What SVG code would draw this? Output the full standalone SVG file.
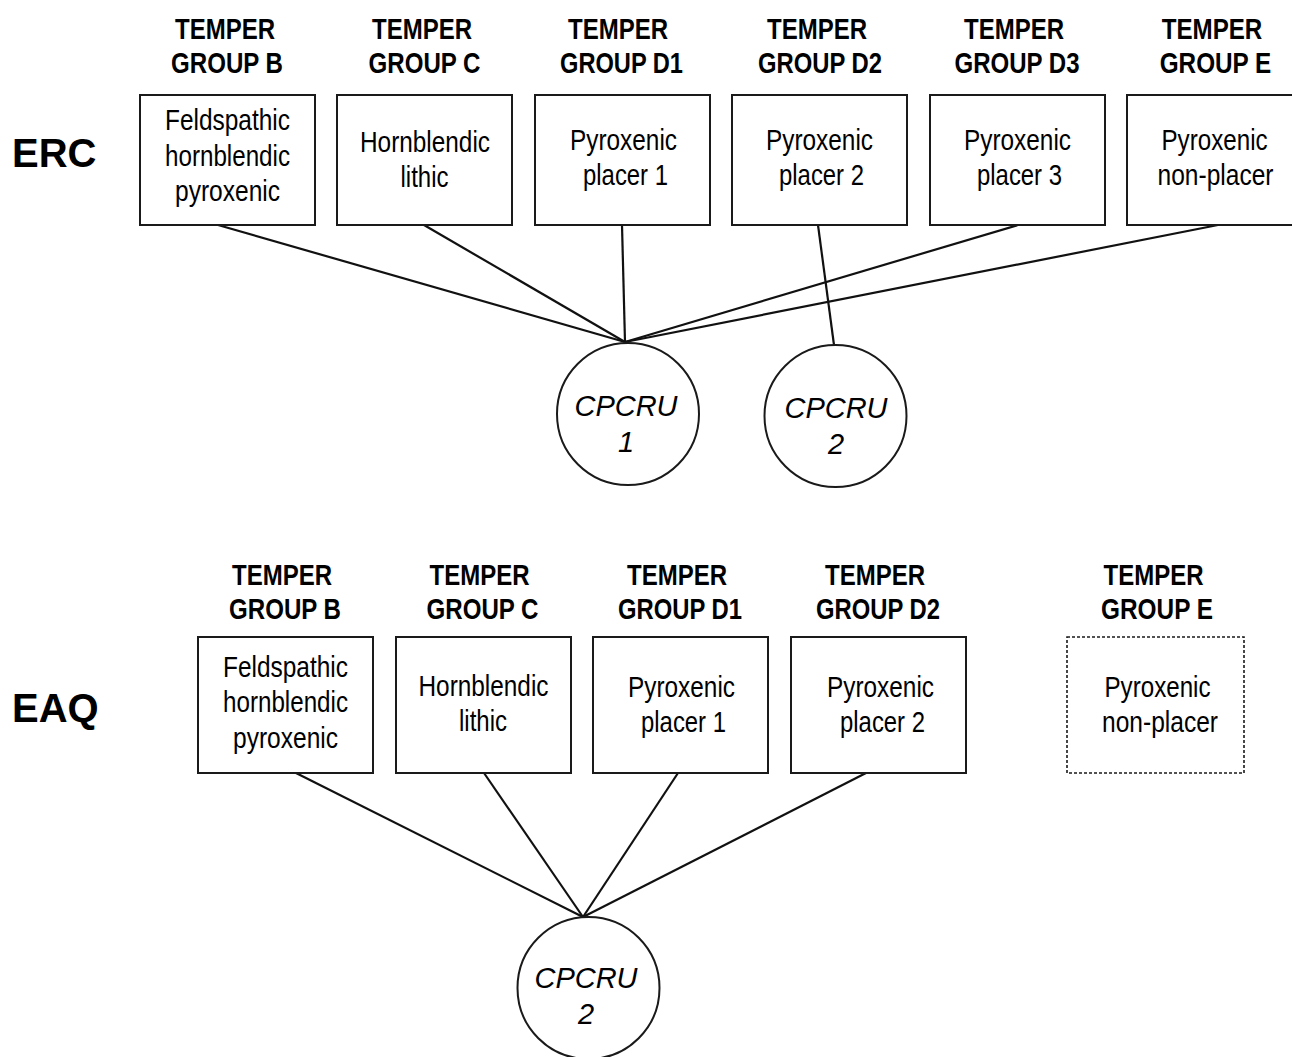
<svg xmlns="http://www.w3.org/2000/svg" width="1292" height="1057" viewBox="0 0 1292 1057">
<style>
.bg{fill:#fff}
.box{fill:#fff;stroke:#1a1a1a;stroke-width:2}
.dbox{fill:#fff;stroke:#1a1a1a;stroke-width:1.6;stroke-dasharray:3 2}
.circ{fill:#fff;stroke:#1a1a1a;stroke-width:2}
.ln{stroke:#111;stroke-width:2.2;fill:none}
.ttl{font-family:"Liberation Sans",Arial,sans-serif;font-weight:bold;font-size:30px;fill:#000;text-anchor:middle}
.lbl{font-family:"Liberation Sans",Arial,sans-serif;font-size:29.5px;fill:#000;text-anchor:middle}
.big{font-family:"Liberation Sans",Arial,sans-serif;font-weight:bold;font-size:40px;fill:#000}
.cu{font-family:"Liberation Sans",Arial,sans-serif;font-style:italic;font-size:29px;fill:#000;text-anchor:middle}
</style>
<rect class="bg" x="0" y="0" width="1292" height="1057"/>
<g id="connectors">
<line class="ln" x1="218" y1="225" x2="625" y2="342"/>
<line class="ln" x1="424" y1="225" x2="625" y2="342"/>
<line class="ln" x1="622" y1="225" x2="625" y2="342"/>
<line class="ln" x1="818" y1="225" x2="834" y2="345"/>
<line class="ln" x1="1018" y1="225" x2="625" y2="342"/>
<line class="ln" x1="1218" y1="225" x2="625" y2="342"/>
<line class="ln" x1="296" y1="773" x2="583" y2="917"/>
<line class="ln" x1="484" y1="773" x2="583" y2="917"/>
<line class="ln" x1="678" y1="773" x2="583" y2="917"/>
<line class="ln" x1="866" y1="773" x2="583" y2="917"/>
</g>
<text id="erc" class="big" x="12" y="167">ERC</text>
<text id="eaq" class="big" x="12" y="722">EAQ</text>
<g id="erc-b">
<text class="ttl" x="225" y="39" textLength="100" lengthAdjust="spacingAndGlyphs">TEMPER</text><text class="ttl" x="227" y="73" textLength="112" lengthAdjust="spacingAndGlyphs">GROUP B</text>
<rect class="box" x="140" y="95" width="175" height="130"/>
<text class="lbl" x="227.5" y="130" textLength="125" lengthAdjust="spacingAndGlyphs">Feldspathic</text><text class="lbl" x="227.5" y="166" textLength="125" lengthAdjust="spacingAndGlyphs">hornblendic</text><text class="lbl" x="227.5" y="201" textLength="105" lengthAdjust="spacingAndGlyphs">pyroxenic</text>
</g>
<g id="erc-c">
<text class="ttl" x="422" y="39" textLength="100" lengthAdjust="spacingAndGlyphs">TEMPER</text><text class="ttl" x="424.5" y="73" textLength="112" lengthAdjust="spacingAndGlyphs">GROUP C</text>
<rect class="box" x="337" y="95" width="175" height="130"/>
<text class="lbl" x="425" y="152" textLength="130" lengthAdjust="spacingAndGlyphs">Hornblendic</text><text class="lbl" x="424.5" y="187" textLength="48" lengthAdjust="spacingAndGlyphs">lithic</text>
</g>
<g id="erc-d1">
<text class="ttl" x="618" y="39" textLength="100" lengthAdjust="spacingAndGlyphs">TEMPER</text><text class="ttl" x="621.5" y="73" textLength="123" lengthAdjust="spacingAndGlyphs">GROUP D1</text>
<rect class="box" x="535" y="95" width="175" height="130"/>
<text class="lbl" x="623.5" y="150" textLength="107" lengthAdjust="spacingAndGlyphs">Pyroxenic</text><text class="lbl" x="625.5" y="185" textLength="85" lengthAdjust="spacingAndGlyphs">placer 1</text>
</g>
<g id="erc-d2">
<text class="ttl" x="817" y="39" textLength="100" lengthAdjust="spacingAndGlyphs">TEMPER</text><text class="ttl" x="820" y="73" textLength="124" lengthAdjust="spacingAndGlyphs">GROUP D2</text>
<rect class="box" x="732" y="95" width="175" height="130"/>
<text class="lbl" x="819.5" y="150" textLength="107" lengthAdjust="spacingAndGlyphs">Pyroxenic</text><text class="lbl" x="821.5" y="185" textLength="85" lengthAdjust="spacingAndGlyphs">placer 2</text>
</g>
<g id="erc-d3">
<text class="ttl" x="1014" y="39" textLength="100" lengthAdjust="spacingAndGlyphs">TEMPER</text><text class="ttl" x="1017" y="73" textLength="125" lengthAdjust="spacingAndGlyphs">GROUP D3</text>
<rect class="box" x="930" y="95" width="175" height="130"/>
<text class="lbl" x="1017.5" y="150" textLength="107" lengthAdjust="spacingAndGlyphs">Pyroxenic</text><text class="lbl" x="1019.5" y="185" textLength="85" lengthAdjust="spacingAndGlyphs">placer 3</text>
</g>
<g id="erc-e">
<text class="ttl" transform="translate(1212 39) scale(0.805 1)" x="0" y="0">TEMPER</text><text class="ttl" transform="translate(1215.5 73) scale(0.81 1)" x="0" y="0">GROUP E</text>
<path class="box" d="M1292 95 H1127 V225 H1292"/>
<text class="lbl" transform="translate(1214.5 150) scale(0.82 1)" x="0" y="0">Pyroxenic</text><text class="lbl" transform="translate(1215.5 185) scale(0.832 1)" x="0" y="0">non-placer</text>
</g>
<g id="erc-cpcru1">
<circle class="circ" cx="628" cy="414" r="71"/>
<text class="cu" x="626" y="416">CPCRU</text><text class="cu" x="626" y="452">1</text>
</g>
<g id="erc-cpcru2">
<circle class="circ" cx="835.5" cy="416" r="71"/>
<text class="cu" x="836" y="418">CPCRU</text><text class="cu" x="836" y="454">2</text>
</g>
<g id="eaq-b">
<text class="ttl" x="282" y="585" textLength="100" lengthAdjust="spacingAndGlyphs">TEMPER</text><text class="ttl" x="285" y="619" textLength="112" lengthAdjust="spacingAndGlyphs">GROUP B</text>
<rect class="box" x="198" y="637" width="175" height="136"/>
<text class="lbl" x="285.5" y="677" textLength="125" lengthAdjust="spacingAndGlyphs">Feldspathic</text><text class="lbl" x="285.5" y="712" textLength="125" lengthAdjust="spacingAndGlyphs">hornblendic</text><text class="lbl" x="285.5" y="748" textLength="105" lengthAdjust="spacingAndGlyphs">pyroxenic</text>
</g>
<g id="eaq-c">
<text class="ttl" x="479.5" y="585" textLength="100" lengthAdjust="spacingAndGlyphs">TEMPER</text><text class="ttl" x="482.5" y="619" textLength="112" lengthAdjust="spacingAndGlyphs">GROUP C</text>
<rect class="box" x="396" y="637" width="175" height="136"/>
<text class="lbl" x="483.5" y="696" textLength="130" lengthAdjust="spacingAndGlyphs">Hornblendic</text><text class="lbl" x="483" y="731" textLength="48" lengthAdjust="spacingAndGlyphs">lithic</text>
</g>
<g id="eaq-d1">
<text class="ttl" x="677" y="585" textLength="100" lengthAdjust="spacingAndGlyphs">TEMPER</text><text class="ttl" x="680" y="619" textLength="124" lengthAdjust="spacingAndGlyphs">GROUP D1</text>
<rect class="box" x="593" y="637" width="175" height="136"/>
<text class="lbl" x="681.5" y="697" textLength="107" lengthAdjust="spacingAndGlyphs">Pyroxenic</text><text class="lbl" x="683.5" y="732" textLength="85" lengthAdjust="spacingAndGlyphs">placer 1</text>
</g>
<g id="eaq-d2">
<text class="ttl" x="875" y="585" textLength="100" lengthAdjust="spacingAndGlyphs">TEMPER</text><text class="ttl" x="878" y="619" textLength="124" lengthAdjust="spacingAndGlyphs">GROUP D2</text>
<rect class="box" x="791" y="637" width="175" height="136"/>
<text class="lbl" x="880.5" y="697" textLength="107" lengthAdjust="spacingAndGlyphs">Pyroxenic</text><text class="lbl" x="882.5" y="732" textLength="85" lengthAdjust="spacingAndGlyphs">placer 2</text>
</g>
<g id="eaq-e">
<text class="ttl" x="1153.5" y="585" textLength="100" lengthAdjust="spacingAndGlyphs">TEMPER</text><text class="ttl" x="1157" y="619" textLength="112" lengthAdjust="spacingAndGlyphs">GROUP E</text>
<rect class="dbox" x="1067" y="637" width="177" height="136"/>
<text class="lbl" x="1157.5" y="697" textLength="106" lengthAdjust="spacingAndGlyphs">Pyroxenic</text><text class="lbl" x="1160" y="732" textLength="116" lengthAdjust="spacingAndGlyphs">non-placer</text>
</g>
<g id="eaq-cpcru2">
<circle class="circ" cx="588.5" cy="988" r="71"/>
<text class="cu" x="586" y="988">CPCRU</text><text class="cu" x="586" y="1024">2</text>
</g>
</svg>
